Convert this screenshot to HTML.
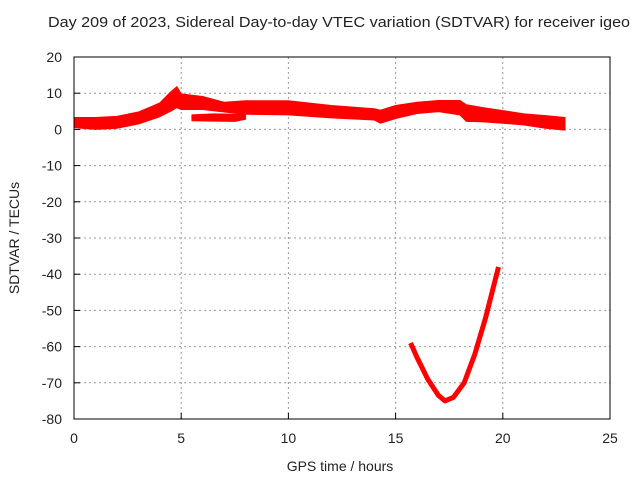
<!DOCTYPE html>
<html><head><meta charset="utf-8"><style>
body{margin:0;background:#fff}
svg text{font-family:"Liberation Sans",sans-serif;font-size:14px;fill:#222}
</style></head><body>
<svg id="chart" width="640" height="480">
<text x="48" y="27" textLength="582" lengthAdjust="spacingAndGlyphs" style="font-size:15px">Day 209 of 2023, Sidereal Day-to-day VTEC variation (SDTVAR) for receiver igeo</text>
<text x="340" y="471" text-anchor="middle">GPS time / hours</text>
<text transform="translate(19,238) rotate(-90)" text-anchor="middle">SDTVAR / TECUs</text>
<g id="grid"></g><g id="marks"></g>
<rect x="74" y="57" width="536" height="362" fill="none" stroke="#000"/>
</svg>
<script>
const xTicks=[0,5,10,15,20,25];
const yTicks=[20,10,0,-10,-20,-30,-40,-50,-60,-70,-80];
const mainT=[0,1,2,3,4,4.5,4.8,5,6,7,8,10,12,14,14.3,15,16,17,18,18.3,19,20,21,22,22.9];
const mainUpper=[3.3,3.3,3.6,4.8,7.3,10.3,11.8,9.8,9.1,7.5,7.9,7.9,6.6,5.7,5.3,6.6,7.5,8,8,6.8,6.1,5.2,4.3,3.8,3.3];
const mainLower=[0.5,0,0.3,1.5,3.5,5,6,5.5,5.5,4.8,4.2,4,3.2,2.6,1.7,3,4.4,4.9,4,2.2,2.1,1.7,1.2,0.3,-0.2];
const lowT=[5.5,6.5,7.5,8];
const lowUpper=[4,4.3,4.2,4.5];
const lowLower=[2.4,2.3,2.2,2.8];
const dipT=[15.7,16,16.5,17,17.3,17.7,18.2,18.7,19.2,19.5,19.8];
const dipV=[-59,-63,-69,-73.5,-75,-74,-70,-62,-52,-45,-38];
const X=t=>74+t*536/25, Y=v=>57+(20-v)*362/100;
const NS='http://www.w3.org/2000/svg';
const grid=document.getElementById('grid'), marks=document.getElementById('marks'), svg=document.getElementById('chart');
function mk(tag,attrs,parent){const e=document.createElementNS(NS,tag);for(const k in attrs)e.setAttribute(k,attrs[k]);parent.appendChild(e);return e;}
xTicks.forEach(t=>{
  if(t>0&&t<25){const l=mk('line',{x1:X(t),x2:X(t),y1:57,y2:419,stroke:'#999','stroke-dasharray':'2,3'},grid);
  
  }
  mk('line',{x1:X(t),x2:X(t),y1:419,y2:413,stroke:'#000'},grid);
  const tx=mk('text',{x:X(t),y:443,'text-anchor':'middle'},svg);tx.textContent=t;
  
  
});
yTicks.forEach(v=>{
  if(v<20&&v>-80){const l=mk('line',{x1:74,x2:610,y1:Y(v),y2:Y(v),stroke:'#999','stroke-dasharray':'2,3'},grid);
  
  }
  mk('line',{x1:74,x2:80,y1:Y(v),y2:Y(v),stroke:'#000'},grid);
  const tx=mk('text',{x:62,y:Y(v)+5,'text-anchor':'end'},svg);tx.textContent=v;
  
  
});
function band(T,U,L,name){
  const pts=T.map((t,i)=>X(t)+','+Y(U[i])).concat(T.map((t,i)=>X(t)+','+Y(L[i])).reverse());
  const p=mk('polygon',{points:pts.join(' '),fill:'#f00',stroke:'#f00','stroke-width':1,'stroke-linejoin':'round'},marks);
  
  
}
band(mainT,mainUpper,mainLower,'sdtvar-main-band');
band(lowT,lowUpper,lowLower,'sdtvar-lower-branch');
const d=mk('polyline',{points:dipT.map((t,i)=>X(t)+','+Y(dipV[i])).join(' '),fill:'none',stroke:'#f00','stroke-width':5,'stroke-linejoin':'round'},marks);


</script>
</body></html>
